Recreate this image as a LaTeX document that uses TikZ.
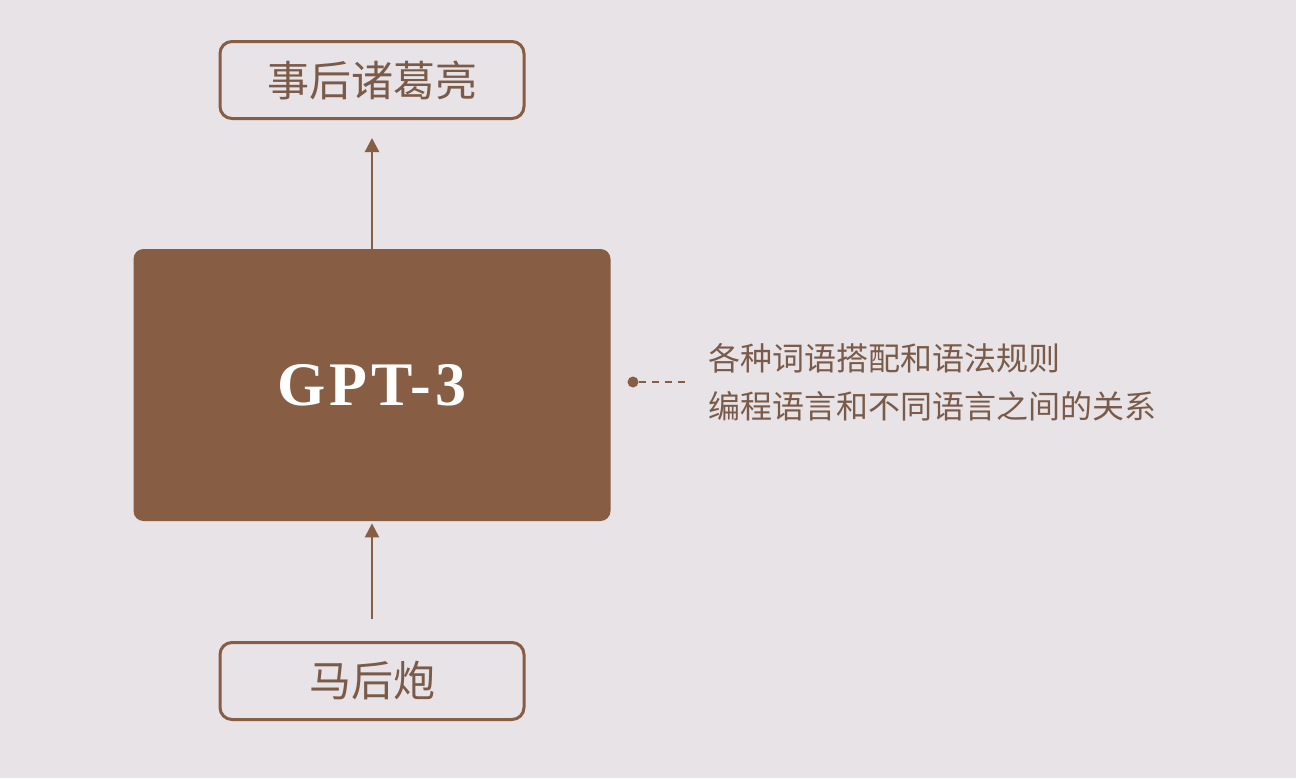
\documentclass[tikz,border=0pt]{standalone}
\usepackage{fontspec}
\usetikzlibrary{arrows.meta, positioning}
\newfontfamily\cjk{Noto Sans CJK SC}
\newfontfamily\gptfont{Liberation Serif}[LetterSpace=6]
\definecolor{bgpink}{HTML}{E7E3E6}
\definecolor{cocoa}{HTML}{875D44}
\definecolor{cocoatext}{HTML}{7A5A48}

\begin{document}
\begin{tikzpicture}[x=0.5pt, y=-0.5pt,
  tagbox/.style={draw=cocoa, line width=1.5pt, rounded corners=6pt, fill=bgpink,
    minimum width=152pt, minimum height=38.5pt, text=cocoatext,
    font=\cjk\fontsize{21}{24}\selectfont},
  uparrow/.style={-{Triangle[length=7pt, width=7pt]}, cocoa, line width=1.2pt}]

  % Canvas -----------------------------------------------------------------
  \fill[bgpink] (0,0) rectangle (1296,778);
  \useasboundingbox (0,0) rectangle (1296,778);

  % Model block --------------------------------------------------------------
  \node[fill=cocoa, rounded corners=5pt, minimum width=238.5pt,
        minimum height=136pt, inner sep=0pt, text=white,
        font=\gptfont\bfseries\fontsize{31}{36}\selectfont] (gpt) at (372,385) {GPT-3};

  % Input / output boxes ---------------------------------------------------
  \node[tagbox] (output) at (372,80) {事后诸葛亮};
  \node[tagbox] (input) at (372,681) {马后炮};

  \draw[uparrow, shorten >=9pt] (gpt.north) -- (output.south);
  \draw[uparrow, shorten <=11pt, shorten >=1pt] (input.north) -- (gpt.south);

  % What it has learnt -----------------------------------------------------
  \node[circle, fill=cocoa, inner sep=0pt, minimum size=5.5pt] (dot) at (633,382) {};
  \node[anchor=west, align=left, text=cocoatext,
        font=\cjk\fontsize{16}{24}\selectfont] (facts) at (701,382)
    {各种词语搭配和语法规则\\编程语言和不同语言之间的关系};
  \draw[cocoa, line width=1pt, dash pattern=on 3.5pt off 3pt, shorten >=5.5pt]
    (dot) -- (facts.west);

\end{tikzpicture}
\end{document}
